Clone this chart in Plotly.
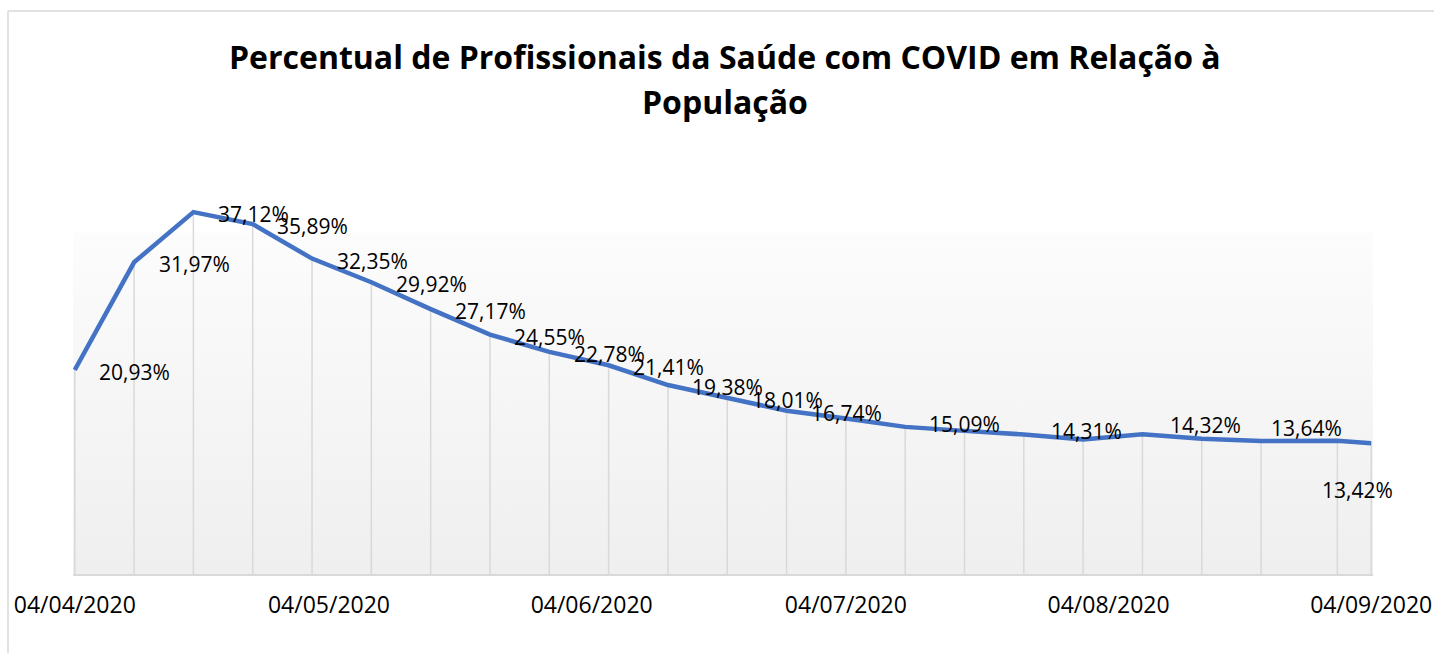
import plotly.graph_objects as go

# ---------------- data ----------------
dates = ["2020-04-04", "2020-04-11", "2020-04-18", "2020-04-25", "2020-05-02",
         "2020-05-09", "2020-05-16", "2020-05-23", "2020-05-30", "2020-06-06",
         "2020-06-13", "2020-06-20", "2020-06-27", "2020-07-04", "2020-07-11",
         "2020-07-18", "2020-07-25", "2020-08-01", "2020-08-08", "2020-08-15",
         "2020-08-22", "2020-08-31", "2020-09-04"]
values = [20.93, 31.97, 37.12, 35.89, 32.35, 29.92, 27.17, 24.55, 22.78, 21.41,
          19.38, 18.01, 16.74, 15.95, 15.09, 14.68, 14.31, 13.80, 14.32, 13.88,
          13.64, 13.66, 13.42]
show_label = [True, True, True, True, True, True, True, True, True, True,
              True, True, True, False, True, False, True, False, True, False,
              True, False, True]
tick_dates = ["2020-04-04", "2020-05-04", "2020-06-04", "2020-07-04",
              "2020-08-04", "2020-09-04"]
tick_labels = ["04/04/2020", "04/05/2020", "04/06/2020", "04/07/2020",
               "04/08/2020", "04/09/2020"]
title_lines = ["Percentual de Profissionais da Saúde com COVID em Relação à",
               "População"]
bg_top = 35

# ---------------- styling ----------------
FONT = "Open Sans"
LINE_COLOR = "#4472C4"
GRID = "#d9d9d9"
x_range = ["2020-04-03 19:00", "2020-09-04 05:00"]
# label offsets (pixels) per point: (xshift, yshift)
default_off = (60, -2)
special_off = {14: (59, 3), 16: (63, 3), 18: (63, 9), 20: (45, 13), 22: (-14, -47)}

fig = go.Figure()

# plot-area gradient background
fig.add_trace(go.Scatter(
    x=[x_range[0], x_range[1], x_range[1], x_range[0], x_range[0]],
    y=[0, 0, bg_top, bg_top, 0],
    fill="toself", mode="lines", line=dict(width=0),
    fillgradient=dict(type="vertical",
                      colorscale=[[0, "#efefef"], [1, "#fcfcfc"]]),
    hoverinfo="skip", showlegend=False))

# drop lines
dx, dy = [], []
for d, v in zip(dates, values):
    dx += [d, d, None]
    dy += [v, 0, None]
fig.add_trace(go.Scatter(x=dx, y=dy, mode="lines",
                         line=dict(color=GRID, width=1.5),
                         hoverinfo="skip", showlegend=False))

# main line
fig.add_trace(go.Scatter(x=dates, y=values, mode="lines",
                         line=dict(color=LINE_COLOR, width=4.5),
                         showlegend=False))

# data labels
for i, (d, v, s) in enumerate(zip(dates, values, show_label)):
    if not s:
        continue
    xs, ys = special_off.get(i, default_off)
    fig.add_annotation(x=d, y=v, xref="x", yref="y",
                       text=f"{v:.2f}".replace(".", ",") + "%",
                       showarrow=False, xshift=xs, yshift=ys,
                       font=dict(family=FONT, size=21, color="#000000"))

# title (two lines)
L, R, T, B = 73, 61, 184, 79
W, H = 1434, 653
pw, ph = W - L - R, H - T - B
def px_to_paper_x(px):
    return (px - L) / pw
def py_to_paper_y(py):
    return (H - B - py) / ph

for txt, yc in zip(title_lines, [56, 101]):
    fig.add_annotation(x=px_to_paper_x(725), y=py_to_paper_y(yc),
                       xref="paper", yref="paper", text=f"<b>{txt}</b>",
                       showarrow=False, xanchor="center", yanchor="middle",
                       font=dict(family=FONT, size=32, color="#000000"))

# chart border (left and top)
fig.add_shape(type="line", xref="paper", yref="paper",
              x0=px_to_paper_x(8), x1=px_to_paper_x(8),
              y0=py_to_paper_y(11), y1=py_to_paper_y(700),
              line=dict(color=GRID, width=1.5))
fig.add_shape(type="line", xref="paper", yref="paper",
              x0=px_to_paper_x(8), x1=px_to_paper_x(1500),
              y0=py_to_paper_y(11), y1=py_to_paper_y(11),
              line=dict(color=GRID, width=1.5))

fig.update_layout(
    width=W, height=H,
    margin=dict(l=L, r=R, t=T, b=B, autoexpand=False),
    paper_bgcolor="white", plot_bgcolor="white",
    showlegend=False,
    xaxis=dict(type="date", range=x_range, showgrid=False, zeroline=False,
               automargin=False,
               showline=True, linecolor=GRID, linewidth=1.5,
               tickvals=tick_dates, ticktext=tick_labels,
               ticks="outside", ticklen=10, tickcolor="rgba(0,0,0,0)",
               tickfont=dict(family=FONT, size=23, color="#000000")),
    yaxis=dict(range=[0, 40], visible=False, fixedrange=True),
)

fig.write_html("out.html", config={"displayModeBar": False},
               post_script="document.body.style.margin='0';document.body.style.overflow='hidden';")
